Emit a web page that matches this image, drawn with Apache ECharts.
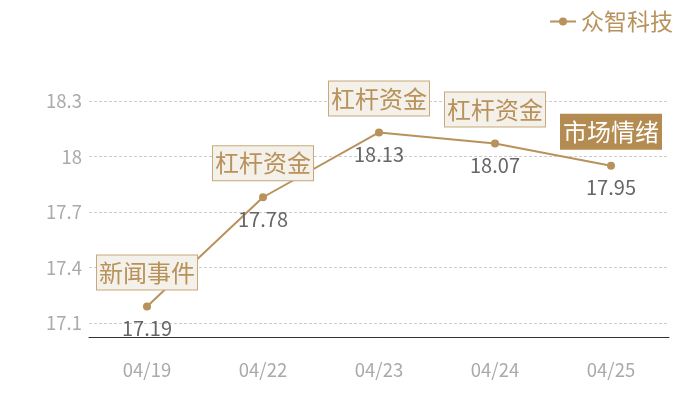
<!DOCTYPE html>
<html>
  <head>
    <meta charset="utf-8">
    <title>众智科技</title>
    <script src="https://cdn.jsdelivr.net/npm/echarts@6/dist/echarts.min.js"></script>
    <style type="text/css">
      html,body{margin:0;padding:0;background:#fff;}
      #main{width:700px;height:400px;}
    </style>
  </head>
  <body>
    <div id="main"></div>
    <script type="text/javascript">
      var dates = ["04/19","04/22","04/23","04/24","04/25"],
          prices = [17.19,17.78,18.13,18.07,17.95],
          events = ["新闻事件","杠杆资金","杠杆资金","杠杆资金","市场情绪"];

      var gold = '#b8925a';
      var myChart = echarts.init(document.getElementById('main'));

      // 事件标注框
      var marks = [];
      for(var i=0;i<dates.length;i++){
        var item = {name: events[i], coord: [dates[i], prices[i]], value: prices[i]};
        if(i == dates.length-1){
          item.label = {backgroundColor: '#b48c52', borderColor: '#b48c52', color: '#fff'};
        }
        marks.push(item);
      }

      var option = {
        textStyle: {fontFamily: '"Noto Sans CJK SC", sans-serif'},
        color: [gold],
        legend: {
          data: ['众智科技'],
          right: 22,
          top: 5,
          itemWidth: 26,
          itemHeight: 10,
          itemGap: 4,
          textStyle: {color: gold, fontSize: 23}
        },
        grid: {left: 89, right: 31, top: 101, bottom: 63},
        xAxis: {
          type: 'category',
          data: dates,
          axisLine: {lineStyle: {color: '#333'}},
          axisTick: {show: false},
          axisLabel: {color: '#aaa', fontSize: 18.5, margin: 24}
        },
        yAxis: {
          type: 'value',
          min: 17.025,
          max: 18.3,
          splitNumber: 5,
          axisLine: {show: false},
          axisTick: {show: false},
          axisLabel: {color: '#aaa', fontSize: 18.5, margin: 7, showMinLabel: false},
          splitLine: {lineStyle: {color: '#ccc', type: [3, 2]}}
        },
        series: [
          {
            name: '众智科技',
            type: 'line',
            data: prices,
            symbol: 'circle',
            symbolSize: 8,
            lineStyle: {width: 2, color: gold},
            itemStyle: {color: gold},
            label: {show: true, position: 'bottom', distance: 8, color: '#666', fontSize: 20},
            markPoint: {
              symbol: 'circle',
              symbolSize: 0,
              data: marks,
              label: {
                show: true,
                position: 'top',
                distance: 17,
                formatter: '{b}',
                color: gold,
                fontSize: 24,
                backgroundColor: '#f4f0ea',
                borderColor: '#c9a97a',
                borderWidth: 1,
                padding: [5, 2, 5, 2]
              }
            }
          }
        ]
      };

      myChart.setOption(option);
    </script>
  </body>
</html>
